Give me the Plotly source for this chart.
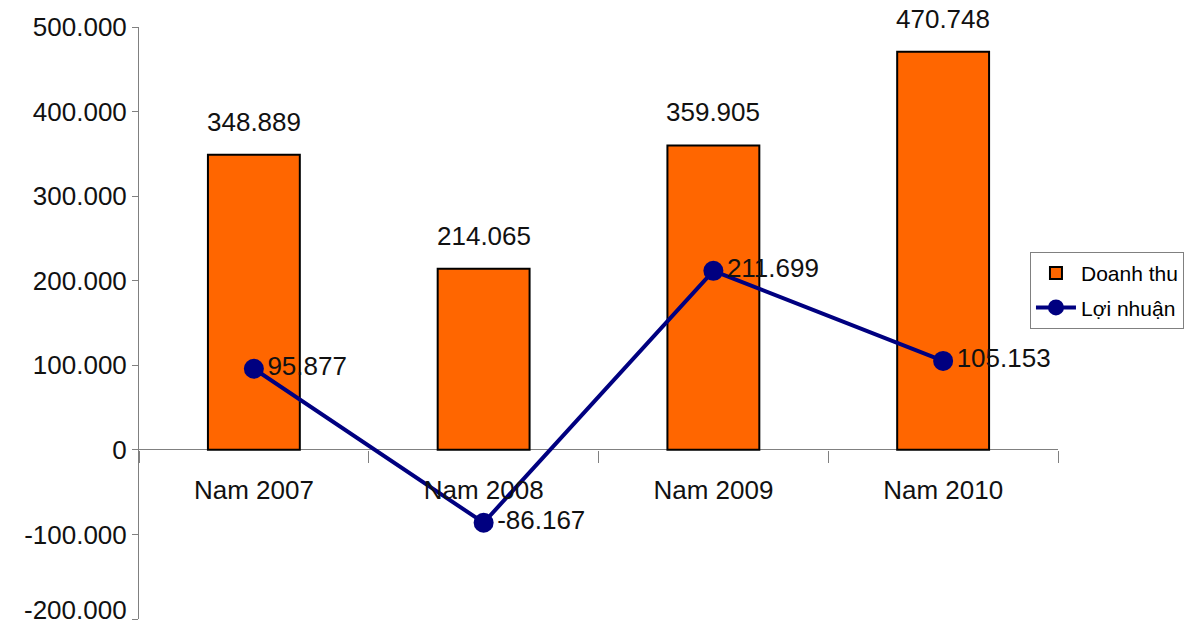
import plotly.graph_objects as go

categories = ["Nam 2007", "Nam 2008", "Nam 2009", "Nam 2010"]
doanh_thu = [348889, 214065, 359905, 470748]
loi_nhuan = [95877, -86167, 211699, 105153]
y_ticks = [-200000, -100000, 0, 100000, 200000, 300000, 400000, 500000]


def vn(v):
    return f"{v:,}".replace(",", ".")


FONT = "Arial, Liberation Sans, sans-serif"
Y_MIN, Y_MAX = -200000, 500000

fig = go.Figure()
fig.add_trace(go.Bar(
    x=categories, y=doanh_thu, name="Doanh thu", legendgroup="a",
    marker=dict(color="#FF6600", line=dict(color="#000000", width=2)),
))
fig.add_trace(go.Scatter(
    x=categories, y=loi_nhuan, name="Lợi nhuận", legendgroup="b",
    mode="lines+markers+text",
    line=dict(color="#000080", width=4),
    marker=dict(color="#000080", size=20),
    text=[vn(v) for v in loi_nhuan],
    textposition="middle right",
    textfont=dict(family=FONT, size=26, color="#111111"),
))

for c, v in zip(categories, doanh_thu):
    fig.add_annotation(x=c, y=v, text=vn(v), showarrow=False,
                       yanchor="bottom", yshift=16,
                       font=dict(family=FONT, size=26, color="#111111"))

# lowest y tick label, kept just inside the page edge
fig.add_annotation(xref="paper", x=0, y=y_ticks[0], text=vn(y_ticks[0]),
                   showarrow=False, xanchor="right", xshift=-10,
                   yanchor="bottom", yshift=-8,
                   font=dict(family=FONT, size=26, color="#111111"))

fig.update_layout(
    width=1199, height=629,
    margin=dict(l=139, r=141, t=27, b=10, autoexpand=False),
    paper_bgcolor="white", plot_bgcolor="white",
    font=dict(family=FONT, size=26, color="#111111"),
    bargap=0.6,
    showlegend=True,
    legend=dict(x=0.9695, y=0.62, xanchor="left", yanchor="top",
                bordercolor="#808080", borderwidth=1,
                traceorder="grouped", tracegroupgap=4, itemwidth=40,
                font=dict(family=FONT, size=21, color="#000000"),
                bgcolor="white"),
    yaxis=dict(range=[Y_MIN, Y_MAX], tickvals=y_ticks,
               ticktext=[vn(v) for v in y_ticks],
               showgrid=False, zeroline=True, zerolinecolor="#808080",
               zerolinewidth=1, showline=True, linecolor="#808080",
               linewidth=1, ticks="outside", ticklen=6, tickcolor="#808080",
               tickfont=dict(size=26, color="#111111")),
    xaxis=dict(anchor="free", position=(0 - Y_MIN) / (Y_MAX - Y_MIN),
               showline=False, showgrid=False,
               tickson="boundaries", ticks="outside", ticklen=12,
               tickcolor="#808080", ticklabelstandoff=22,
               tickfont=dict(size=26, color="#111111")),
)

fig.write_html("out.html")
